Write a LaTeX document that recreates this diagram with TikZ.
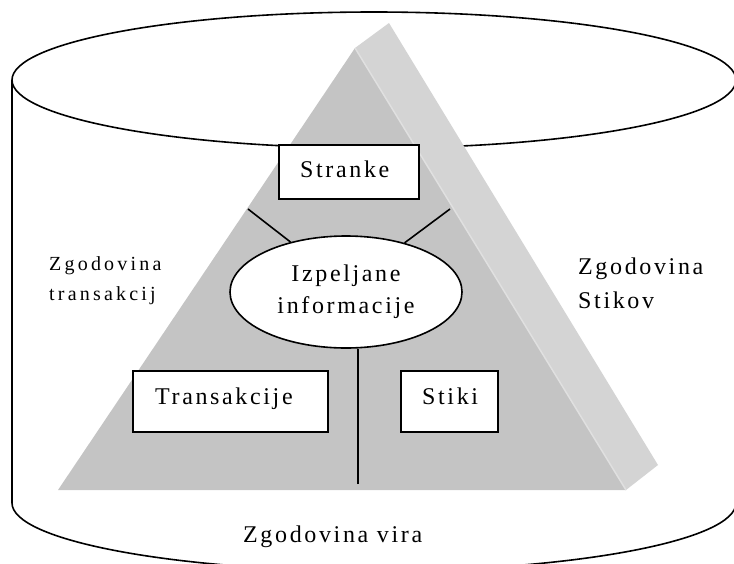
\documentclass[tikz,border=0pt]{standalone}
\usepackage{fontspec}
\setmainfont{Liberation Serif}
\newfontfamily\lblfont[LetterSpace=11]{Liberation Serif}
\newfontfamily\smlfont[LetterSpace=16]{Liberation Serif}
\usetikzlibrary{shapes.geometric}
\definecolor{frontgray}{HTML}{C4C4C4}
\definecolor{sidegray}{HTML}{D4D4D4}
\definecolor{edgegray}{HTML}{E0E0E0}
\begin{document}
\begin{tikzpicture}[x=1pt,y=-1pt,
  outline/.style={line width=1.6pt},
  box/.style={draw, line width=1.6pt, fill=white, rectangle, inner sep=0pt},
  txt/.style={font=\lblfont\fontsize{24}{32}\selectfont, inner sep=0pt, anchor=base west},
  smalltxt/.style={font=\smlfont\fontsize{20}{26}\selectfont, inner sep=0pt, anchor=base west}]
\clip (0,0) rectangle (734,563);
% cylinder
\draw[outline] (374,80) ellipse [x radius=362pt, y radius=68pt];
\draw[outline] (12,80) -- (12,503) arc[start angle=180, end angle=360, x radius=362pt, y radius=68pt];
% pyramid
\fill[sidegray] (355,48) -- (389,23) -- (658,465) -- (626,490) -- cycle;
\fill[frontgray] (355,48) -- (58,490) -- (626,490) -- cycle;
\draw[edgegray, line width=1.5pt] (355,48) -- (626,490);
% boxes
\node[box, minimum width=140pt, minimum height=54pt] (stranke) at (349,172) {};
\node[box, minimum width=195pt, minimum height=61pt] (trans) at (230.5,401.5) {};
\node[box, minimum width=97pt, minimum height=61pt] (stiki) at (449.5,401.5) {};
% derived information
\node[draw, outline, fill=white, ellipse, minimum width=232pt, minimum height=112pt,
      inner sep=0pt, align=center, font=\lblfont\fontsize{24}{32}\selectfont] (izp) at (346,292) {Izpeljane\\informacije};
% connectors
\coordinate (la) at (248,209);
\coordinate (ra) at (450,209);
\coordinate (vb) at (358,484);
\draw[outline] (la) -- (izp.138);
\draw[outline] (ra) -- (izp.40);
\draw[outline] (vb) -- (vb |- izp.south);
% texts
\node[txt] (tstranke) at (300,177) {Stranke};
\node[txt] (ttrans) at (155,404) {Transakcije};
\node[txt] (tstiki) at (422,404) {Stiki};
\node[txt] (tvira) at (243,542) {Zgodovina vira};
\node[smalltxt] (tzt1) at (49,270) {Zgodovina};
\node[smalltxt] (tzt2) at (49,300) {transakcij};
\node[txt] (tzs1) at (578,274) {Zgodovina};
\node[txt] (tzs2) at (578,308) {Stikov};
\end{tikzpicture}
\end{document}
